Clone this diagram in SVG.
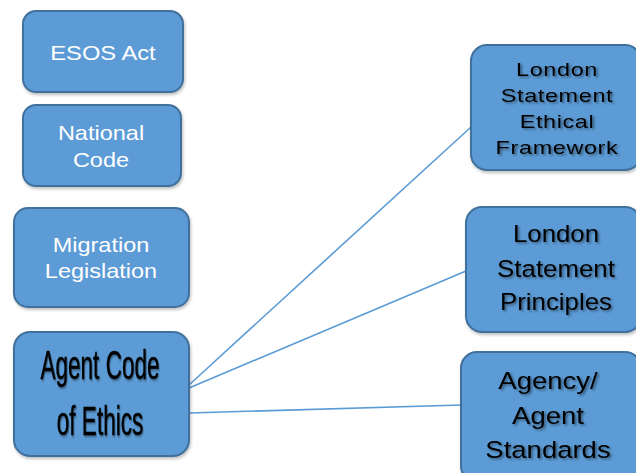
<svg xmlns="http://www.w3.org/2000/svg" width="636" height="473" viewBox="0 0 636 473">
  <defs>
    <filter id="txtShadow" x="-10%" y="-10%" width="130%" height="140%">
      <feDropShadow dx="1.5" dy="1.5" stdDeviation="1" flood-color="#000" flood-opacity="0.45"/>
    </filter>
    <filter id="boxShadow" x="-10%" y="-10%" width="130%" height="130%">
      <feDropShadow dx="1" dy="2" stdDeviation="1.5" flood-color="#000" flood-opacity="0.25"/>
    </filter>
  </defs>
  <style>
    .box { fill: #5b9bd5; stroke: #41719c; stroke-width: 2; filter: url(#boxShadow); }
    .wt { fill: #ffffff; font-family: "Liberation Sans", Arial, sans-serif; text-anchor: middle; font-size: 21px; }
    .bt { fill: #000000; font-family: "Liberation Sans", Arial, sans-serif; text-anchor: middle; filter: url(#txtShadow); }
    .narrow { stroke: #000000; stroke-width: 0.4; }
    .link { stroke: #5b9bd5; stroke-width: 1.6; fill: none; }
  </style>
  <rect width="636" height="473" fill="#ffffff"/>

  <g id="connectors">
    <line class="link" x1="189" y1="385" x2="471" y2="127"/>
    <line class="link" x1="189" y1="388" x2="466" y2="271"/>
    <line class="link" x1="189" y1="413" x2="461" y2="405"/>
  </g>

  <g id="esos-act">
    <rect class="box" x="23" y="11" width="160" height="81" rx="13"/>
    <g transform="translate(103 0) scale(1.13 1)">
      <text class="wt" x="0" y="60">ESOS Act</text>
    </g>
  </g>

  <g id="national-code">
    <rect class="box" x="23" y="105" width="158" height="81" rx="13"/>
    <g transform="translate(101 0) scale(1.12 1)">
      <text class="wt" x="0" y="140">National</text>
      <text class="wt" x="0" y="167">Code</text>
    </g>
  </g>

  <g id="migration-legislation">
    <rect class="box" x="14" y="208" width="175" height="99" rx="14"/>
    <g transform="translate(101 0) scale(1.12 1)">
      <text class="wt" x="0" y="252">Migration</text>
      <text class="wt" x="0" y="278">Legislation</text>
    </g>
  </g>

  <g id="agent-code-of-ethics">
    <rect class="box" x="14" y="332" width="175" height="124" rx="16"/>
    <g transform="translate(100 0) scale(0.55 1)">
      <text class="bt narrow" x="0" y="379" font-size="41">Agent Code</text>
      <text class="bt narrow" x="0" y="435" font-size="41">of Ethics</text>
    </g>
  </g>

  <g id="london-ethical-framework">
    <rect class="box" x="471" y="45" width="170" height="125" rx="16"/>
    <g transform="translate(557 0) scale(1.3 1)">
      <text class="bt" x="0" y="76" font-size="18" letter-spacing="0.5">London</text>
      <text class="bt" x="0" y="102" font-size="18" letter-spacing="0.5">Statement</text>
      <text class="bt" x="0" y="128" font-size="18" letter-spacing="0.5">Ethical</text>
      <text class="bt" x="0" y="154" font-size="18" letter-spacing="0.5">Framework</text>
    </g>
  </g>

  <g id="london-principles">
    <rect class="box" x="466" y="207" width="175" height="125" rx="16"/>
    <g transform="translate(556 0) scale(1.1 1)">
      <text class="bt" x="0" y="242" font-size="23.5">London</text>
      <text class="bt" x="0" y="277" font-size="23.5">Statement</text>
      <text class="bt" x="0" y="310" font-size="23.5">Principles</text>
    </g>
  </g>

  <g id="agency-agent-standards">
    <rect class="box" x="461" y="352" width="180" height="130" rx="16"/>
    <g transform="translate(548 0) scale(1.17 1)">
      <text class="bt" x="0" y="389" font-size="23.5">Agency/</text>
      <text class="bt" x="0" y="424" font-size="23.5">Agent</text>
      <text class="bt" x="0" y="458" font-size="23.5">Standards</text>
    </g>
  </g>
</svg>
